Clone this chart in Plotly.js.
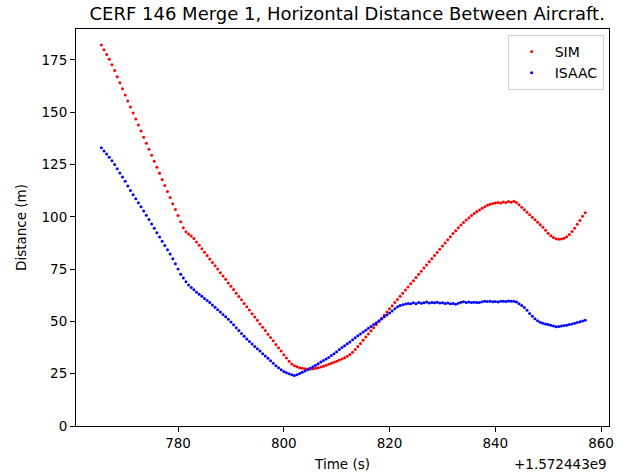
<!DOCTYPE html>
<html>
<head>
<meta charset="utf-8">
<script src="https://cdn.plot.ly/plotly-3.0.1.min.js"></script>
<style>html,body{margin:0;padding:0;background:#fff;}#chart{width:629px;height:475px;}</style>
</head>
<body>
<div id="chart"></div>
<script>
// Time offsets in seconds (add 1.572443e9)
const timeOffset = "+1.572443e9";
const times = [
765.5,766.0,766.5,767.0,767.5,768.0,768.5,769.0,769.5,770.0,
770.5,771.0,771.5,772.0,772.5,773.0,773.5,774.0,774.5,775.0,
775.5,776.0,776.5,777.0,777.5,778.0,778.5,779.0,779.5,780.0,
780.5,781.0,781.5,782.0,782.5,783.0,783.5,784.0,784.5,785.0,
785.5,786.0,786.5,787.0,787.5,788.0,788.5,789.0,789.5,790.0,
790.5,791.0,791.5,792.0,792.5,793.0,793.5,794.0,794.5,795.0,
795.5,796.0,796.5,797.0,797.5,798.0,798.5,799.0,799.5,800.0,
800.5,801.0,801.5,802.0,802.5,803.0,803.5,804.0,804.5,805.0,
805.5,806.0,806.5,807.0,807.5,808.0,808.5,809.0,809.5,810.0,
810.5,811.0,811.5,812.0,812.5,813.0,813.5,814.0,814.5,815.0,
815.5,816.0,816.5,817.0,817.5,818.0,818.5,819.0,819.5,820.0,
820.5,821.0,821.5,822.0,822.5,823.0,823.5,824.0,824.5,825.0,
825.5,826.0,826.5,827.0,827.5,828.0,828.5,829.0,829.5,830.0,
830.5,831.0,831.5,832.0,832.5,833.0,833.5,834.0,834.5,835.0,
835.5,836.0,836.5,837.0,837.5,838.0,838.5,839.0,839.5,840.0,
840.5,841.0,841.5,842.0,842.5,843.0,843.5,844.0,844.5,845.0,
845.5,846.0,846.5,847.0,847.5,848.0,848.5,849.0,849.5,850.0,
850.5,851.0,851.5,852.0,852.5,853.0,853.5,854.0,854.5,855.0,
855.5,856.0,856.5,857.0
];
const simDistance = [
182.2,179.9,177.6,175.3,172.7,169.9,167.0,164.1,161.2,158.3,
155.4,152.5,149.6,146.8,143.9,141.0,138.1,135.2,132.3,129.4,
126.6,123.7,120.8,117.9,115.0,112.1,109.2,106.3,103.5,100.6,
97.7,94.8,92.9,91.8,90.8,89.6,88.0,86.4,84.8,83.1,
81.5,79.9,78.2,76.6,75.0,73.3,71.7,70.1,68.4,66.8,
65.2,63.5,61.9,60.3,58.6,57.0,55.4,53.7,52.1,50.5,
48.8,47.2,45.6,43.9,42.3,40.7,39.0,37.4,35.8,34.1,
32.5,30.9,29.6,28.8,28.3,27.9,27.6,27.4,27.3,27.3,
27.4,27.6,27.9,28.2,28.6,29.0,29.5,30.0,30.5,31.0,
31.5,32.0,32.6,33.3,34.2,35.3,36.6,38.0,39.5,41.0,
42.5,44.0,45.5,47.0,48.5,50.0,51.5,53.0,54.5,56.0,
57.5,59.0,60.5,62.0,63.5,65.0,66.5,68.0,69.5,71.0,
72.5,74.0,75.5,77.0,78.5,80.0,81.5,83.0,84.5,86.0,
87.5,89.0,90.5,92.0,93.4,94.8,96.1,97.3,98.5,99.6,
100.6,101.6,102.5,103.3,104.1,104.8,105.5,106.0,106.4,106.6,
106.8,106.6,107.1,106.8,107.3,107.0,107.4,106.8,105.8,104.6,
103.4,102.2,101.0,99.8,98.6,97.4,96.2,95.0,93.6,92.2,
91.0,90.1,89.5,89.3,89.4,89.8,90.5,91.6,93.0,94.6,
96.4,98.3,100.3,102.0
];
const isaacDistance = [
133.0,131.5,130.0,128.5,126.8,125.0,123.0,121.0,119.0,117.0,
114.8,112.6,110.6,108.6,106.7,104.8,102.8,100.8,98.7,96.6,
94.5,92.4,90.3,88.3,86.3,84.3,82.2,80.0,77.6,75.0,
72.6,70.7,69.0,67.4,66.2,65.1,64.0,63.0,62.0,61.0,
60.0,59.0,57.9,56.8,55.6,54.5,53.3,52.2,51.0,49.7,
48.4,47.0,45.6,44.2,42.9,41.6,40.4,39.2,38.0,36.9,
35.8,34.6,33.5,32.4,31.2,30.0,28.8,27.8,26.9,26.1,
25.5,25.0,24.5,24.1,24.5,25.1,25.7,26.3,26.9,27.6,
28.3,29.0,29.8,30.6,31.3,32.0,32.8,33.7,34.6,35.5,
36.6,37.5,38.4,39.3,40.2,41.2,42.2,43.1,44.0,44.9,
45.8,46.7,47.6,48.5,49.4,50.3,51.2,52.2,53.1,54.0,
55.0,56.0,57.0,57.6,58.0,58.3,58.6,58.4,58.9,58.5,
59.1,58.7,58.9,59.3,58.8,59.1,58.9,59.2,58.8,58.9,
58.6,58.8,58.5,58.6,58.2,58.7,59.2,59.4,59.1,59.3,
59.0,59.2,59.0,59.1,59.4,59.7,59.5,59.6,59.4,59.5,
59.3,59.6,59.7,59.5,59.8,59.6,59.7,59.3,58.5,57.6,
56.6,55.3,53.8,52.5,51.3,50.3,49.6,49.1,48.8,48.5,
48.2,47.8,47.5,47.6,47.8,48.0,48.2,48.5,48.8,49.1,
49.5,49.9,50.2,50.5
];
const xTicks = [780, 800, 820, 840, 860];
const yTicks = [0, 25, 50, 75, 100, 125, 150, 175];

const font = {family: "DejaVu Sans", size: 13.5, color: "#000"};
const traces = [
  {type: "scatter", mode: "markers", name: "SIM", x: times, y: simDistance,
   marker: {color: "#ff0000", size: 3, line: {width: 0}}},
  {type: "scatter", mode: "markers", name: "ISAAC", x: times, y: isaacDistance,
   marker: {color: "#0000ff", size: 3, line: {width: 0}}}
];
const axisCommon = {
  showgrid: false, zeroline: false, showline: true, mirror: true,
  linecolor: "#000", linewidth: 1, ticks: "outside", ticklen: 5, tickwidth: 1,
  tickcolor: "#000", tickfont: font
};
const layout = {
  width: 629, height: 475,
  margin: {l: 76, r: 20, t: 29, b: 49},
  paper_bgcolor: "#fff", plot_bgcolor: "#fff",
  font: font,
  title: {text: "CERF 146 Merge 1, Horizontal Distance Between Aircraft.",
          font: {family: "DejaVu Sans", size: 18, color: "#000"},
          x: 0.552, xanchor: "center", y: 0.972, yanchor: "middle"},
  xaxis: Object.assign({}, axisCommon, {range: [760.7, 861.5], tickvals: xTicks,
          ticktext: xTicks.map(String),
          title: {text: "Time (s)", font: font, standoff: 9}}),
  yaxis: Object.assign({}, axisCommon, {range: [0, 189.8], tickvals: yTicks,
          ticktext: yTicks.map(String),
          title: {text: "Distance (m)", font: font, standoff: 11}}),
  legend: {x: 0.99, y: 0.985, xanchor: "right", yanchor: "top",
           bgcolor: "#fff", bordercolor: "#d0d0d0", borderwidth: 1,
           font: {family: "DejaVu Sans", size: 14, color: "#000"},
           itemsizing: "trace", itemwidth: 36},
  showlegend: true,
  annotations: [{text: timeOffset, xref: "paper", yref: "paper", x: 1.0, y: -0.096,
                 xanchor: "right", yanchor: "middle", showarrow: false, font: font}]
};
Plotly.newPlot("chart", traces, layout, {staticPlot: true, displayModeBar: false});
</script>
</body>
</html>
